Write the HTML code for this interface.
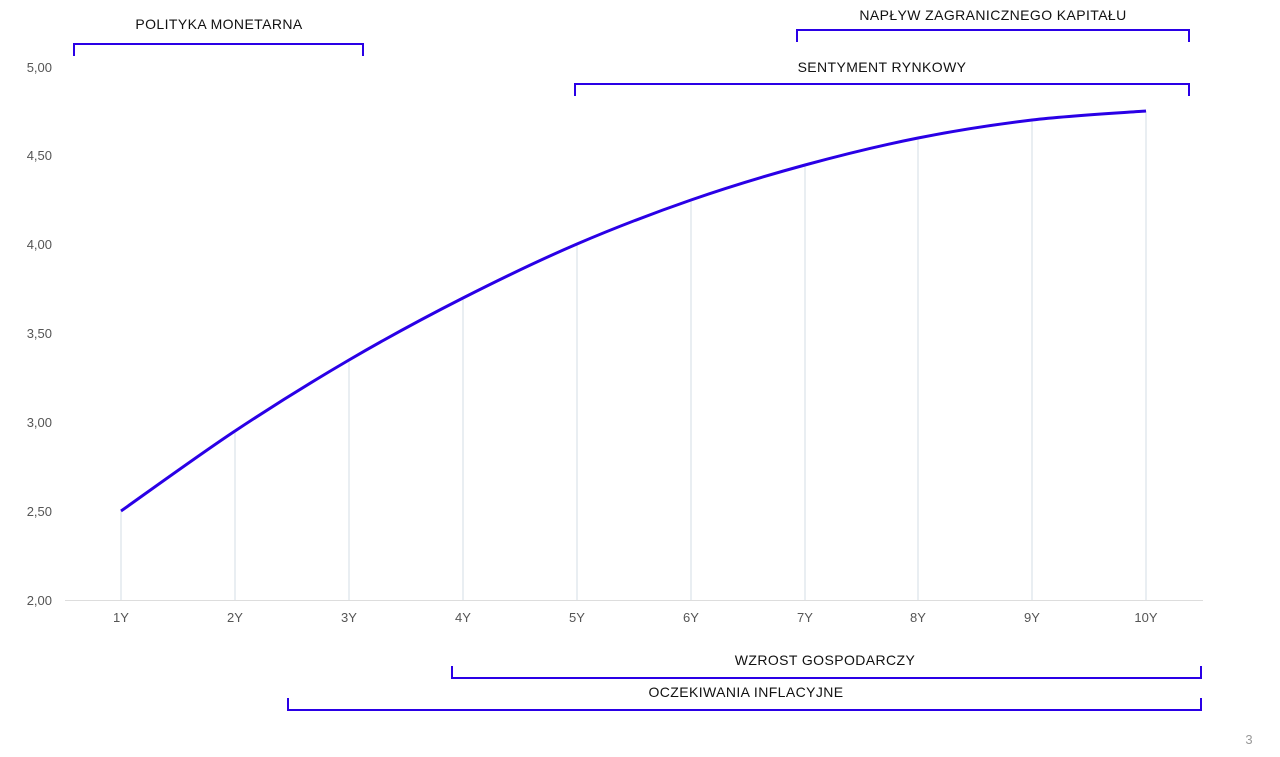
<!DOCTYPE html>
<html><head><meta charset="utf-8"><style>
html,body{margin:0;padding:0;background:#fff;}
svg{display:block;font-family:"Liberation Sans",sans-serif;}
</style></head><body>
<svg width="1280" height="757" viewBox="0 0 1280 757">
<g fill="#555" font-size="13" text-anchor="end">
<text x="52" y="72">5,00</text>
<text x="52" y="160">4,50</text>
<text x="52" y="249">4,00</text>
<text x="52" y="338">3,50</text>
<text x="52" y="427">3,00</text>
<text x="52" y="516">2,50</text>
<text x="52" y="605">2,00</text>
</g>
<line x1="65" y1="600.5" x2="1203" y2="600.5" stroke="#ddd" stroke-width="1"/>
<g stroke="#d3dee6" stroke-width="1">
<line x1="121" y1="511" x2="121" y2="600"/>
<line x1="235" y1="431" x2="235" y2="600"/>
<line x1="349" y1="360" x2="349" y2="600"/>
<line x1="463" y1="298" x2="463" y2="600"/>
<line x1="577" y1="244" x2="577" y2="600"/>
<line x1="691" y1="200" x2="691" y2="600"/>
<line x1="805" y1="165" x2="805" y2="600"/>
<line x1="918" y1="138" x2="918" y2="600"/>
<line x1="1032" y1="120" x2="1032" y2="600"/>
<line x1="1146" y1="111" x2="1146" y2="600"/>
</g>
<g fill="#555" font-size="13" text-anchor="middle">
<text x="121" y="622">1Y</text><text x="235" y="622">2Y</text><text x="349" y="622">3Y</text>
<text x="463" y="622">4Y</text><text x="577" y="622">5Y</text><text x="691" y="622">6Y</text>
<text x="805" y="622">7Y</text><text x="918" y="622">8Y</text><text x="1032" y="622">9Y</text>
<text x="1146" y="622">10Y</text>
</g>
<path d="M121,511 C140,497.7 197,456.2 235,431 C273,405.8 311,382.2 349,360 C387,337.8 425,317.3 463,298 C501,278.7 539,260.3 577,244 C615,227.7 653,213.2 691,200 C729,186.8 767.2,175.3 805,165 C842.8,154.7 880.2,145.5 918,138 C955.8,130.5 994,124.5 1032,120 C1070,115.5 1127,112.5 1146,111" fill="none" stroke="#2a00e6" stroke-width="3"/>
<g fill="none" stroke="#2a00e6" stroke-width="2">
<path d="M74,56 V44 H363 V56"/>
<path d="M797,42 V30 H1189 V42"/>
<path d="M575,96 V84 H1189 V96"/>
<path d="M452,666 V678 H1201 V666"/>
<path d="M288,698 V710 H1201 V698"/>
</g>
<g fill="#111" font-size="14" text-anchor="middle" letter-spacing="0.4">
<text x="219" y="29">POLITYKA MONETARNA</text>
<text x="993" y="20">NAPŁYW ZAGRANICZNEGO KAPITAŁU</text>
<text x="882" y="72">SENTYMENT RYNKOWY</text>
<text x="825" y="665">WZROST GOSPODARCZY</text>
<text x="746" y="697">OCZEKIWANIA INFLACYJNE</text>
</g>
<text x="1249" y="744" fill="#999" font-size="13" text-anchor="middle">3</text>
</svg>
</body></html>
